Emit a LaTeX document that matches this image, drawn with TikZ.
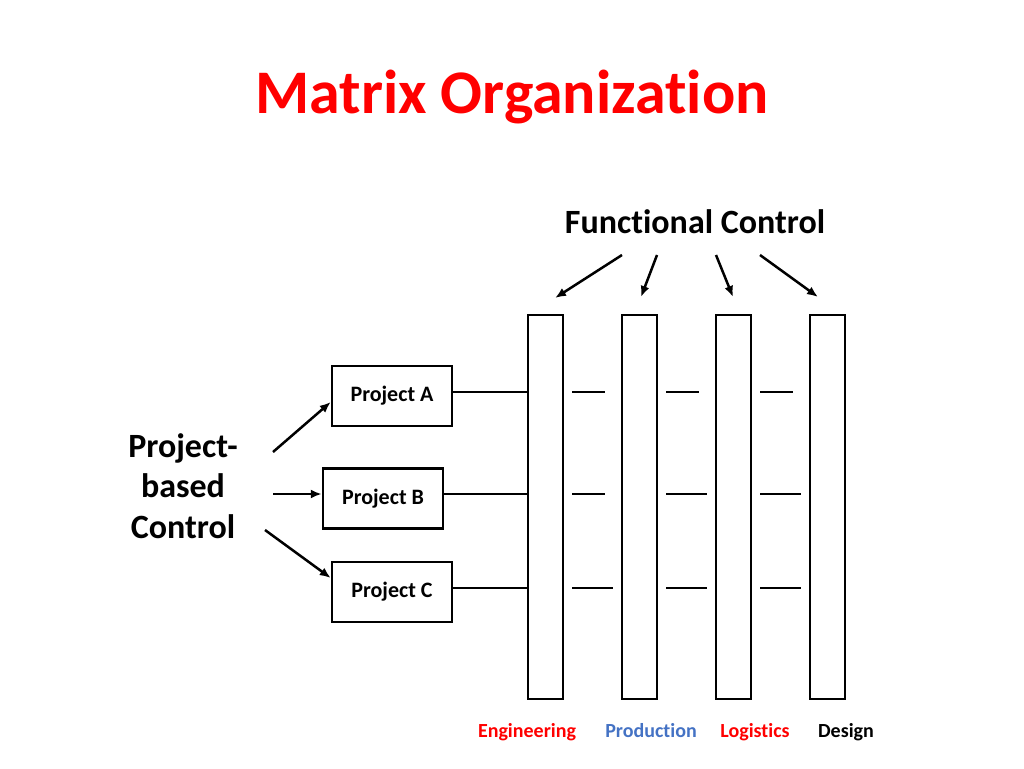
\documentclass[tikz,border=0pt]{standalone}
\usepackage{fontspec}
\setmainfont[Ligatures=NoCommon]{Carlito}
\usetikzlibrary{arrows.meta}
\begin{document}
\begin{tikzpicture}[x=1pt,y=-1pt,
  col/.style={draw,line width=2.5pt},
  pbox/.style={draw,line width=2.5pt,minimum width=120pt,minimum height=60pt,font=\bfseries\fontsize{22}{24}\selectfont},
  conn/.style={line width=2.5pt},
  arr/.style={line width=2.5pt,-{Latex[length=11pt,width=9pt]}},
  lab/.style={anchor=base,font=\bfseries\fontsize{20}{22}\selectfont}]
\useasboundingbox (0,0) rectangle (1024,768);
\definecolor{tred}{RGB}{255,0,0}
\definecolor{pblue}{RGB}{68,114,196}
\node[text=tred,font=\bfseries\fontsize{62}{66}\selectfont] (title) at (512,97) {Matrix Organization};
\node[font=\bfseries\fontsize{34}{36}\selectfont] (fc) at (695,222) {Functional Control};
\node[align=center,font=\bfseries\fontsize{34}{40.5}\selectfont] (pc) at (183,486) {Project-\\based\\Control};
\foreach \n/\x in {c1/528,c2/622,c3/716,c4/810}{
  \draw[col] (\x,315) rectangle (\x+35,699);
  \coordinate (\n) at (\x,0);
}
\node[pbox] (pa) at (392,396) {Project A};
\node[pbox] (pb) at (383,498.5) {Project B};
\node[pbox] (pc2) at (392,592) {Project C};
\draw[conn] (pa.east|-0,392) -- (528,392);
\draw[conn] (pb.east|-0,494) -- (528,494);
\draw[conn] (pc2.east|-0,588) -- (528,588);
\foreach \a/\b/\y in {572/605/392,666/699/392,760/793/392,572/605/494,666/707/494,760/801/494,572/613/588,666/707/588,760/801/588}
  \draw[conn] (\a,\y) -- (\b,\y);
\coordinate (f1) at (622,255); \coordinate (f2) at (657,255);
\coordinate (f3) at (716,255); \coordinate (f4) at (760,255);
\coordinate (t1) at (555,298); \coordinate (t2) at (641,297);
\coordinate (t3) at (733,297); \coordinate (t4) at (818,297);
\draw[arr] (f1) -- (t1); \draw[arr] (f2) -- (t2);
\draw[arr] (f3) -- (t3); \draw[arr] (f4) -- (t4);
\coordinate (s1) at (273,452); \coordinate (s2) at (273,494); \coordinate (s3) at (265,530);
\draw[arr] (s1) -- (pa.west|-0,402);
\draw[arr] (s2) -- (pb.west|-0,494);
\draw[arr] (s3) -- (pc2.west|-0,578);
\node[lab,text=tred] (le) at (527,737) {Engineering};
\node[lab,text=pblue] (lp) at (651,737) {Production};
\node[lab,text=tred] (ll) at (755,737) {Logistics};
\node[lab] (ld) at (846,737) {Design};
\end{tikzpicture}
\end{document}
